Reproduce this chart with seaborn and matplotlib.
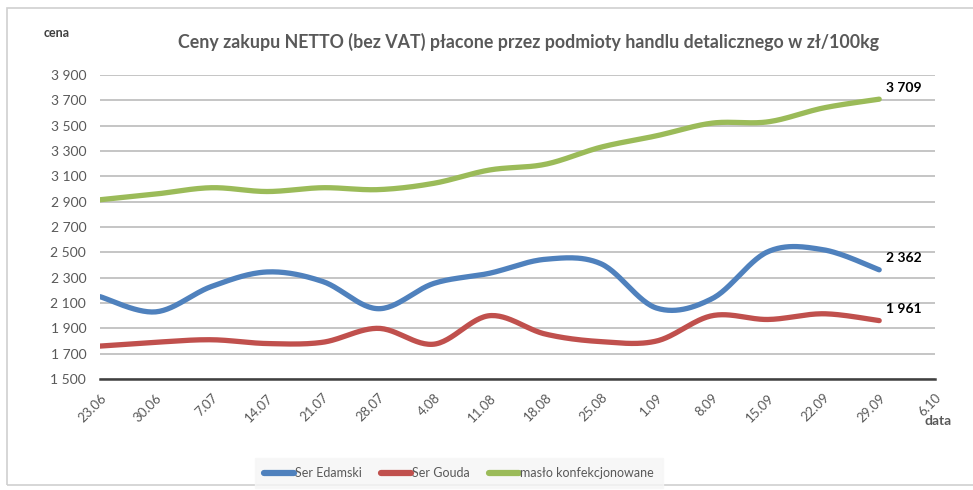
import numpy as np
import pandas as pd
import seaborn as sns
import matplotlib.pyplot as plt
from matplotlib.patches import Rectangle
from matplotlib.lines import Line2D

# dates on the x axis (last one has no data)
dates = ['23.06', '30.06', '7.07', '14.07', '21.07', '28.07', '4.08', '11.08',
         '18.08', '25.08', '1.09', '8.09', '15.09', '22.09', '29.09', '6.10']

# prices, zl/100kg
edamski = [2150, 2030, 2230, 2345, 2270, 2055, 2255, 2335, 2445, 2410,
           2060, 2135, 2505, 2520, 2362]
gouda = [1760, 1790, 1810, 1780, 1790, 1900, 1775, 2000, 1855, 1795,
         1800, 2000, 1970, 2015, 1961]
maslo = [2915, 2960, 3010, 2980, 3010, 2995, 3045, 3150, 3195, 3330,
         3420, 3520, 3530, 3640, 3709]

series_names = ['Ser Edamski', 'Ser Gouda', 'masło konfekcjonowane']
colors = ['#4F81BD', '#C0504D', '#9BBB59']


# smooth the line like excel does (bezier through the points)
def smooth(xv, yv, n=30):
    pts = np.column_stack([xv, yv]).astype(float)
    p = np.vstack([pts[0], pts, pts[-1]])
    out = []
    for i in range(1, len(p) - 2):
        p0, p1, p2, p3 = p[i - 1], p[i], p[i + 1], p[i + 2]
        c1 = p1 + (p2 - p0) / 6
        c2 = p2 - (p3 - p1) / 6
        t = np.linspace(0, 1, n)[:, None]
        seg = (1 - t) ** 3 * p1 + 3 * (1 - t) ** 2 * t * c1 + 3 * (1 - t) * t ** 2 * c2 + t ** 3 * p2
        out.append(seg if i == 1 else seg[1:])
    out = np.vstack(out)
    return out[:, 0], out[:, 1]


sns.set_style('white')
plt.rcParams['font.family'] = ['Lato', 'DejaVu Sans']

fig = plt.figure(figsize=(9.73, 4.9), dpi=100)
ax = fig.add_axes([0.1028, 0.2265, 0.858, 0.6205])

# outer chart border
fig.patches.append(Rectangle((7 / 973, 5 / 490), 1.0, 477 / 490, transform=fig.transFigure,
                             fill=False, edgecolor='#d0d0d0', lw=1.2))

xpos = np.arange(len(edamski))
for vals, name, col in zip([edamski, gouda, maslo], series_names, colors):
    sx, sy = smooth(xpos, vals)
    df = pd.DataFrame({'x': sx, 'y': sy})
    sns.lineplot(data=df, x='x', y='y', ax=ax, color=col, lw=3.8, sort=False,
                 solid_capstyle='round', zorder=3)
    ax.annotate(f'{vals[-1]:,}'.replace(',', ' '), (xpos[-1], vals[-1]),
                xytext=(5, 4), textcoords='offset points', fontsize=10,
                fontweight='bold', color='black', va='bottom', ha='left')

ax.set_xlim(0, len(dates) - 1)
ax.set_ylim(1500, 3900)
yt = np.arange(1500, 3901, 200)
ax.set_yticks(yt)
ax.set_yticklabels([f'{v:,}'.replace(',', ' ') for v in yt], color='#595959', fontsize=10)
ax.set_xticks(np.arange(len(dates)))
ax.set_xticklabels(dates, rotation=45, ha='right', rotation_mode='anchor',
                   color='#595959', fontsize=9.5)
ax.tick_params(axis='x', direction='out', length=5, width=1.5, color='#404040', pad=4)
ax.tick_params(axis='y', length=0, pad=10)
ax.grid(axis='y', color='#c0c0c0', lw=1.3)
ax.set_axisbelow(True)
for s in ['top', 'right', 'left']:
    ax.spines[s].set_visible(False)
ax.spines['bottom'].set_color('#404040')
ax.spines['bottom'].set_linewidth(1.8)
ax.spines['bottom'].set_zorder(4)
ax.set_xlabel('')
ax.set_ylabel('')

fig.text(529 / 973, 1 - 42 / 490,
         'Ceny zakupu NETTO (bez VAT) płacone przez podmioty handlu detalicznego w zł/100kg',
         ha='center', va='center', fontsize=12.8, fontweight='bold', color='#595959')
fig.text(57 / 973, 1 - 33 / 490, 'cena', ha='center', va='center', fontsize=9,
         fontweight='bold', color='#404040')
fig.text(938 / 973, 1 - 421 / 490, 'data', ha='center', va='center', fontsize=10,
         fontweight='bold', color='#595959')

handles = [Line2D([0], [0], color=c, lw=4.5, solid_capstyle='round') for c in colors]
leg = fig.legend(handles, series_names, loc='center', bbox_to_anchor=(459 / 973, 1 - 473 / 490),
                 ncol=3, frameon=True, fontsize=9, handlelength=2.4, handletextpad=0.1,
                 columnspacing=1.5, borderpad=0.7)
leg.get_frame().set_facecolor('#f6f6f6')
leg.get_frame().set_edgecolor('#f6f6f6')
leg.get_frame().set_boxstyle('square', pad=0)
for t in leg.get_texts():
    t.set_color('#595959')

fig.savefig('out.png', dpi=100)
